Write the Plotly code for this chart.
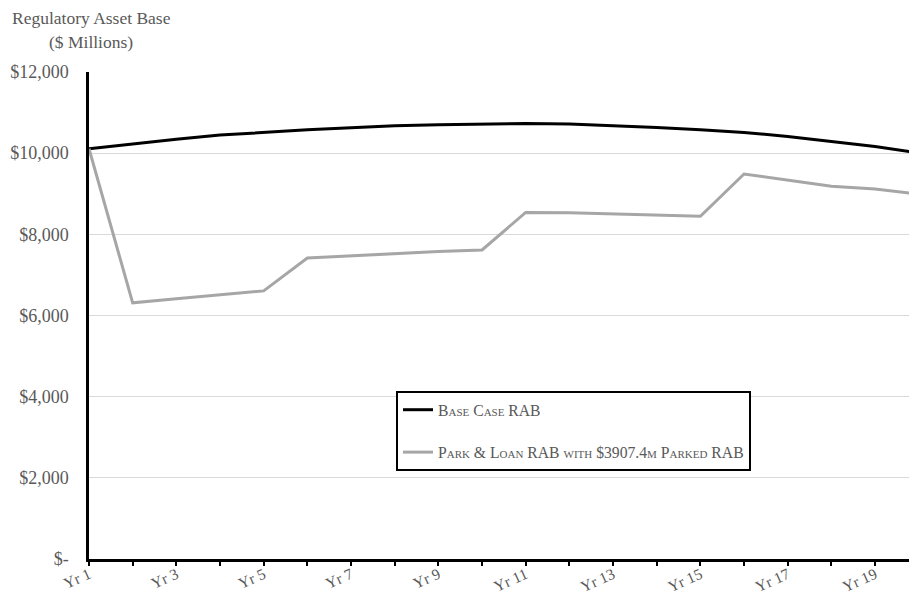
import plotly.graph_objects as go

years = [f"Yr {i}" for i in range(1, 21)]
base_case = [10110, 10230, 10345, 10445, 10520, 10577, 10625, 10675, 10700, 10718,
             10733, 10718, 10683, 10634, 10577, 10510, 10412, 10298, 10166, 10005]
park_loan = [10110, 6312, 6410, 6508, 6607, 7417, 7475, 7530, 7575, 7616,
             8540, 8533, 8508, 8484, 8443, 9487, 9330, 9182, 9117, 8990]
tick_text = [y if i % 2 == 0 else "" for i, y in enumerate(years)]
y_ticks = [0, 2000, 4000, 6000, 8000, 10000, 12000]
y_tick_text = ["$-", "$2,000", "$4,000", "$6,000", "$8,000", "$10,000", "$12,000"]

FONT = "Liberation Serif"
GREY_TXT = "#595959"

fig = go.Figure()
fig.add_trace(go.Scatter(x=years, y=base_case, mode="lines", name="Base Case RAB",
                         line=dict(color="#000000", width=3), legendgroup="a"))
fig.add_trace(go.Scatter(x=years, y=park_loan, mode="lines",
                         name="Park & Loan RAB with $3907.4m Parked RAB",
                         line=dict(color="#a6a6a6", width=3), legendgroup="b"))

L, T, B = 89, 72, 36
W, H = 909, 595
pw = W - L
ph = H - T - B

fig.update_layout(
    width=W, height=H,
    margin=dict(l=L, r=0, t=T, b=B, autoexpand=False),
    paper_bgcolor="white", plot_bgcolor="white",
    font=dict(family=FONT, color=GREY_TXT, size=17),
    showlegend=True,
    legend=dict(
        x=(396 - L) / pw, y=(H - B - 391) / ph, xanchor="left", yanchor="top",
        bgcolor="white", bordercolor="#000000", borderwidth=2,
        font=dict(family=FONT, size=15.7, color=GREY_TXT, variant="small-caps"),
        tracegroupgap=19, traceorder="grouped", itemwidth=30,
    ),
    xaxis=dict(
        type="category", range=[0, pw / 43.67], automargin=False,
        tickmode="array", tickvals=years, ticktext=tick_text,
        tickangle=-24, ticks="outside", ticklen=4, tickwidth=2, tickcolor="#000000",
        showline=True, linecolor="#000000", linewidth=2.5,
        showgrid=False, zeroline=False, ticklabelstandoff=-6,
        tickfont=dict(family=FONT, size=15.5, color=GREY_TXT),
    ),
    yaxis=dict(
        range=[0, 12000], tickmode="array", tickvals=y_ticks, ticktext=y_tick_text,
        automargin=False,
        showline=True, linecolor="#000000", linewidth=2.5,
        showgrid=True, gridcolor="#d9d9d9", gridwidth=1,
        zeroline=False, ticks="", ticklabelstandoff=14,
        tickfont=dict(family=FONT, size=18, color=GREY_TXT),
    ),
    annotations=[
        dict(text="Regulatory Asset Base", xref="paper", yref="paper",
             x=(91 - L) / pw, y=(H - B - 18) / ph, xanchor="center", yanchor="middle",
             showarrow=False, font=dict(family=FONT, size=17.5, color=GREY_TXT)),
        dict(text="($ Millions)", xref="paper", yref="paper",
             x=(91 - L) / pw, y=(H - B - 42) / ph, xanchor="center", yanchor="middle",
             showarrow=False, font=dict(family=FONT, size=17.5, color=GREY_TXT)),
    ],
)

fig.write_html("out.html", config={"displayModeBar": False},
               post_script="document.body.style.margin='0';document.body.style.overflow='hidden';")
